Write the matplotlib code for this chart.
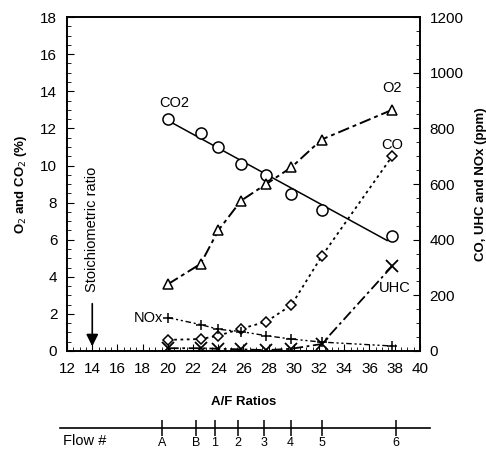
import numpy as np
import matplotlib
matplotlib.use('Agg')
import matplotlib.pyplot as plt
from matplotlib.ticker import MultipleLocator

plt.rcParams['font.family'] = ['Liberation Sans', 'DejaVu Sans']

# A/F ratio of each test flow
af_ratio = [20.0, 22.6, 24.0, 25.8, 27.8, 29.8, 32.2, 37.8]
flow_labels = ['A', 'B', '1', '2', '3', '4', '5', '6']

# left axis (%)
co2 = [12.5, 11.75, 11.0, 10.1, 9.5, 8.45, 7.6, 6.2]
o2 = [3.6, 4.7, 6.5, 8.1, 9.0, 9.9, 11.4, 13.0]

# right axis (ppm)
co = [40, 43, 55, 80, 105, 165, 340, 700]
uhc = [10, 10, 8, 6, 3, 8, 25, 305]
nox = [120, 95, 78, 70, 55, 43, 32, 18]

stoich_ratio = 14.0

fig = plt.figure(figsize=(4.86, 4.5), dpi=100)
ax = fig.add_axes([0.138, 0.22, 0.726, 0.742])
ax2 = ax.twinx()

# CO2 with linear fit line
fit = np.polyfit(af_ratio, co2, 1)
xf = np.array([af_ratio[0], af_ratio[-1] - 0.4])
ax.plot(xf, np.polyval(fit, xf), 'k-', linewidth=1.1)
ax.plot(af_ratio, co2, 'o', mfc='white', mec='black', markersize=8, mew=1.1)

# O2
ax.plot(af_ratio, o2, color='black', linestyle=(0, (6, 2, 2, 2)), linewidth=1.4)
ax.plot(af_ratio, o2, '^', mfc='white', mec='black', markersize=7.5, mew=1.1)

# CO, UHC, NOx
ax2.plot(af_ratio, co, color='black', linestyle=(0, (1.5, 2)), linewidth=1.3)
ax2.plot(af_ratio, co, 'D', mfc='white', mec='black', markersize=5.5, mew=1.1)
ax2.plot(af_ratio, uhc, color='black', linestyle=(0, (6, 2, 1.5, 2)), linewidth=1.3)
ax2.plot(af_ratio, uhc, 'x', color='black', markersize=8, mew=1.3)
ax2.plot(af_ratio, nox, color='black', linestyle=(0, (4, 2, 1.5, 2, 1.5, 2)), linewidth=1.0)
ax2.plot(af_ratio, nox, '+', color='black', markersize=7, mew=1.1)

ax.set_xlim(12, 40)
ax.set_ylim(0, 18)
ax2.set_ylim(0, 1200)
ax.xaxis.set_major_locator(MultipleLocator(2))
ax.xaxis.set_minor_locator(MultipleLocator(0.5))
ax.yaxis.set_major_locator(MultipleLocator(2))
ax.yaxis.set_minor_locator(MultipleLocator(0.5))
ax2.yaxis.set_major_locator(MultipleLocator(200))
ax2.yaxis.set_minor_locator(MultipleLocator(50))
ax.tick_params(which='both', direction='in', labelsize=11, top=False)
ax.tick_params(which='major', length=5)
ax.tick_params(which='minor', length=3)
ax.tick_params(axis='x', pad=8)
ax.tick_params(axis='y', pad=7)
ax2.tick_params(which='both', direction='in', labelsize=11, pad=7)
ax2.tick_params(which='major', length=5)
ax2.tick_params(which='minor', length=3)
for a in (ax, ax2):
    for s in a.spines.values():
        s.set_linewidth(1.2)

ax.set_ylabel('O$_2$ and CO$_2$ (%)', fontsize=9.5, fontweight='bold', labelpad=8)
ax2.set_ylabel('CO, UHC and NOx (ppm)', fontsize=9.5, fontweight='bold', labelpad=8)
ax.set_xlabel('A/F Ratios', fontsize=9.5, fontweight='bold', labelpad=14)

# curve labels
ax.text(20.5, 13.0, 'CO2', fontsize=10.5, ha='center', va='bottom')
ax.text(37.8, 13.8, 'O2', fontsize=10.5, ha='center', va='bottom')
ax2.text(37.8, 715, 'CO', fontsize=10.5, ha='center', va='bottom')
ax2.text(38.0, 200, 'UHC', fontsize=10.5, ha='center', va='bottom')
ax2.text(19.6, 118, 'NOx', fontsize=10.5, ha='right', va='center')

# stoichiometric arrow
ax.annotate('', xy=(stoich_ratio, 0.1), xytext=(stoich_ratio, 2.7),
            arrowprops=dict(arrowstyle='-|>', color='black', lw=1.2,
                            mutation_scale=18))
ax.text(stoich_ratio, 3.2, 'Stoichiometric ratio', rotation=90, fontsize=10.5,
        ha='center', va='bottom')

# flow number axis
fax = fig.add_axes([0.123, 0.05, 0.761, 0.001])
fax.set_xlim(12.2, 40.4)
fax.set_ylim(0, 1)
for side in ('top', 'left', 'right'):
    fax.spines[side].set_visible(False)
fax.spines['bottom'].set_linewidth(1.2)
fax.set_yticks([])
fax.set_xticks(af_ratio)
fax.set_xticklabels(flow_labels)
fax.tick_params(axis='x', direction='inout', length=12, width=1.1, labelsize=9, pad=1)
fig.text(0.13, 0.02, 'Flow #', fontsize=10.5, ha='left', va='center')

fig.savefig('out.png', dpi=100)
